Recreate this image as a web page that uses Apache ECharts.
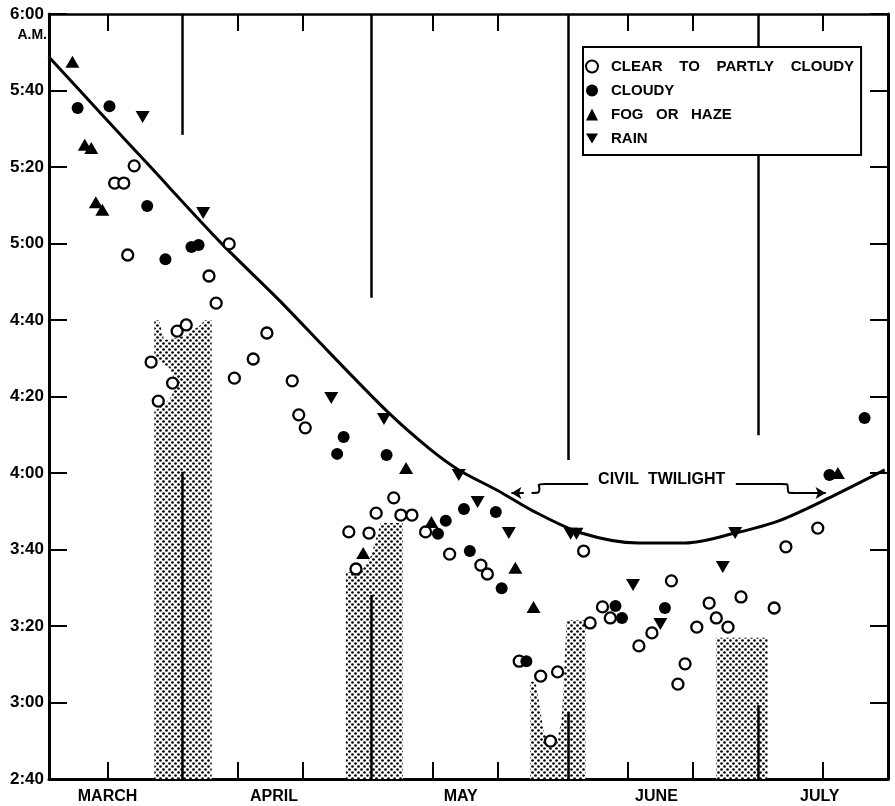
<!DOCTYPE html>
<html>
<head>
<meta charset="utf-8">
<script src="https://cdn.jsdelivr.net/npm/echarts@6/dist/echarts.min.js"></script>
<style>html,body{margin:0;padding:0;background:#fff}#chart{width:895px;height:806px}</style>
</head>
<body>
<div id="chart"></div>
<script>
// x: day index (1 = start of March), y: minutes after midnight
const monthNames = ['MARCH', 'APRIL', 'MAY', 'JUNE', 'JULY'];
const monthPositions = [10, 35.6, 64.3, 94.4, 119.5];
const xTickValues = [10, 30, 40, 60, 70, 90, 100, 120];
const yMin = 160, yMax = 360, yStep = 20;

const clearSky = [
  [14.1,320.3],[11.1,315.8],[12.5,315.8],[13.1,297.0],[28.7,299.9],[25.6,291.5],[26.7,284.4],
  [16.7,269.0],[17.8,258.8],[20.0,263.5],[20.7,277.1],[22.1,278.7],[29.5,264.8],[32.4,269.8],
  [34.5,276.6],[38.4,264.1],[39.4,255.2],[40.4,251.8],[54.0,233.5],[51.3,229.5],[55.1,229.0],
  [56.8,229.0],[47.1,224.6],[50.2,224.3],[58.9,224.6],[48.2,214.9],[62.6,218.8],[67.4,215.9],
  [68.4,213.6],[83.2,219.6],[84.2,200.8],[73.3,190.8],[76.6,186.9],[79.2,188.0],[78.1,169.9],
  [86.1,205.0],[87.3,202.1],[91.7,194.8],[93.7,198.2],[96.7,211.8],[98.8,190.1],[97.7,184.8],
  [100.6,199.7],[102.5,206.0],[103.6,202.1],[105.4,199.7],[107.4,207.6],[112.5,204.7],
  [114.3,220.7],[119.2,225.6]
];
const cloudy = [
  [5.4,335.4],[10.3,335.9],[16.1,309.8],[18.9,295.9],[22.9,299.1],[24.0,299.6],[46.3,249.4],
  [45.3,245.0],[52.9,244.7],[64.8,230.6],[62.0,227.5],[60.8,224.1],[69.7,229.8],[65.7,219.6],
  [70.6,209.9],[74.4,190.8],[88.1,205.2],[89.1,202.1],[95.7,204.7],[121.0,239.5],[126.4,254.4]
];
const fogHaze = [
  [4.6,347.5],[6.5,325.8],[7.5,325.0],[8.2,310.8],[9.2,308.8],[55.9,241.3],[59.8,227.2],
  [49.3,219.1],[72.7,215.2],[75.5,205.0],[122.3,240.0]
];
const rain = [
  [15.4,333.1],[24.7,308.0],[44.4,259.6],[52.5,254.1],[64.0,239.5],[66.9,232.4],[71.7,224.3],
  [81.2,224.1],[82.1,224.1],[90.8,210.7],[95.0,200.5],[104.6,215.4],[106.5,224.3]
];
const twilightCurve = [
  [0.95,348.8],[8.77,334.4],[16.44,320.3],[27.48,300.1],[36.38,285.2],[44.05,271.6],[53.24,255.7],
  [59.39,246.5],[64.0,240.8],[70.12,235.3],[75.18,230.3],[82.85,224.3],[91.6,221.7],[98.8,221.7],
  [106.5,224.3],[113.5,227.7],[121.2,233.7],[129.5,240.8]
];
// moon lines: [x, end of line hanging from top, end of line rising from bottom]
const moonLines = [[21.5,328.4,240.3],[50.5,285.8,208.1],[80.8,243.4,177.5],[110.1,249.9,179.3]];
// stippled blocks (outline polygons in data units)
const shadeBlocks = [
  [[17.2,160],[17.2,256],[19.5,259.2],[20.7,263],[19.5,267.5],[17.7,269.5],[17.2,270],[17.2,280],
   [17.9,280],[18.7,274.8],[21.8,275.8],[24.1,278.4],[25.0,280],[26.0,280],[26.0,160]],
  [[46.65,160],[46.65,214.1],[49.0,214.1],[50.5,218.3],[51.7,225.1],[52.0,226.9],[55.4,226.9],[55.4,160]],
  [[75.0,160],[75.0,185.4],[75.8,185.4],[76.3,180.7],[77.0,172.8],[78.1,168.1],[79.0,168.9],
   [79.8,175.4],[80.1,183.3],[80.2,188.5],[80.6,201.6],[83.5,201.6],[83.5,160]],
  [[103.6,160],[103.6,196.9],[111.5,196.9],[111.5,160]]
];
const twilightLabel = { text: 'CIVIL  TWILIGHT', at: [95.2, 238.2] };
const twilightLeft = [[75.2,234.8],[76.2,234.9],[76.4,236.0],[76.3,236.9],[77.3,237.1],[83.9,237.1]];
const twilightRight = [[106.6,237.1],[113.5,237.1],[114.5,237.0],[114.6,235.9],[114.7,234.9],[115.7,234.8],[120.4,234.8]];
const arrowLeft = [[74.0,234.8],[72.1,234.8]];
const arrowRight = [[118.6,234.8],[120.4,234.8]];

function makePattern() {
  const c = document.createElement('canvas');
  c.width = 6; c.height = 6;
  const g = c.getContext('2d');
  g.fillStyle = '#fff'; g.fillRect(0, 0, 6, 6);
  g.fillStyle = '#000';
  [[1.5,1.5],[4.5,4.5]].forEach(p => { g.beginPath(); g.arc(p[0], p[1], 1.35, 0, Math.PI * 2); g.fill(); });
  return c;
}
const pattern = { image: makePattern(), repeat: 'repeat' };

const FONT = '"Liberation Sans", Arial, sans-serif';
const fmtTime = v => Math.floor(v / 60) + ':' + String(v % 60).padStart(2, '0');

const chart = echarts.init(document.getElementById('chart'), null, { renderer: 'canvas' });

const lineBlack = { color: '#000', width: 2.5, type: 'solid' };
const moonMark = [];
moonLines.forEach(l => {
  moonMark.push([{ coord: [l[0], yMax] }, { coord: [l[0], l[1]] }]);
  moonMark.push([{ coord: [l[0], yMin] }, { coord: [l[0], l[2]] }]);
});
const downTri = 'path://M0,0L20,0L10,17Z';

const option = {
  backgroundColor: '#fff',
  animation: false,
  grid: { left: 49, right: 7, top: 14, bottom: 27, containLabel: false },
  legend: {
    orient: 'vertical',
    left: 583, top: 47, z: 20, zlevel: 1,
    data: ['CLEAR TO PARTLY CLOUDY', 'CLOUDY', 'FOG OR HAZE', 'RAIN'],
    backgroundColor: '#fff',
    borderColor: '#000', borderWidth: 2,
    padding: [12, 7, 9, 2],
    itemGap: 9, itemWidth: 12, itemHeight: 12,
    formatter: n => n.replace(/ /g, n.length > 15 ? '    ' : '   '),
    textStyle: { fontFamily: FONT, fontWeight: 'bold', fontSize: 15, color: '#000', padding: [0, 0, 0, 8] }
  },
  xAxis: [
    { type: 'value', min: 1, max: 130, position: 'bottom',
      axisLine: { show: true, onZero: false, lineStyle: { color: '#000', width: 3 } },
      axisTick: { show: true, inside: true, length: 17, customValues: xTickValues, lineStyle: { color: '#000', width: 2 } },
      axisLabel: { show: false }, splitLine: { show: false } },
    { type: 'value', min: 1, max: 130, position: 'bottom',
      axisLine: { show: false }, axisTick: { show: false }, splitLine: { show: false },
      axisLabel: { show: true, customValues: monthPositions, margin: 10,
        formatter: (v) => monthNames[monthPositions.indexOf(v)] || '',
        fontFamily: FONT, fontWeight: 'bold', fontSize: 16, color: '#000' } },
    { type: 'value', min: 1, max: 130, position: 'top',
      axisLine: { show: true, onZero: false, lineStyle: { color: '#000', width: 2.5 } },
      axisTick: { show: true, inside: true, length: 17, customValues: xTickValues, lineStyle: { color: '#000', width: 2 } },
      axisLabel: { show: false }, splitLine: { show: false } }
  ],
  yAxis: [
    { type: 'value', min: yMin, max: yMax, interval: yStep, position: 'left',
      axisLine: { show: true, onZero: false, lineStyle: { color: '#000', width: 3 } },
      axisTick: { show: true, inside: true, length: 18, lineStyle: { color: '#000', width: 2 } },
      axisLabel: { formatter: fmtTime, margin: 5, fontFamily: FONT, fontWeight: 'bold', fontSize: 17, color: '#000' },
      splitLine: { show: false } },
    { type: 'value', min: yMin, max: yMax, interval: yStep, position: 'right',
      axisLine: { show: true, onZero: false, lineStyle: { color: '#000', width: 3 } },
      axisTick: { show: true, inside: true, length: 18, lineStyle: { color: '#000', width: 2 } },
      axisLabel: { show: false }, splitLine: { show: false } },
    { type: 'value', min: yMin, max: yMax, position: 'left',
      axisLine: { show: false }, axisTick: { show: false }, splitLine: { show: false },
      axisLabel: { show: true, customValues: [354.5], formatter: () => 'A.M.', margin: 2,
        fontFamily: FONT, fontWeight: 'bold', fontSize: 14, color: '#000' } }
  ],
  series: [
    { type: 'custom', name: 'moonlight', z: 1, silent: true, clip: true,
      data: shadeBlocks.map((p, i) => [p[0][0], p[0][1], i]),
      renderItem: (params, api) => {
        const poly = shadeBlocks[api.value(2)];
        return { type: 'polygon', shape: { points: poly.map(pt => api.coord(pt)) },
                 style: { fill: pattern, stroke: null } };
      } },
    { type: 'line', name: 'moon', z: 2, data: [], silent: true,
      markLine: { silent: true, symbol: ['none', 'none'], label: { show: false },
        lineStyle: lineBlack, data: moonMark } },
    { type: 'line', name: 'twilight', z: 3, data: twilightCurve, smooth: 0.3, symbol: 'none',
      lineStyle: { color: '#000', width: 3 } },
    { type: 'line', name: 'twl', z: 3, data: twilightLeft, smooth: 0.3, symbol: 'none',
      lineStyle: { color: '#000', width: 2 },
      markLine: { silent: true, symbol: ['none', 'arrow'], symbolSize: [9, 10], label: { show: false },
        lineStyle: { color: '#000', width: 2, type: 'solid' },
        data: [[{ coord: arrowLeft[0] }, { coord: arrowLeft[1] }], [{ coord: arrowRight[0] }, { coord: arrowRight[1] }]] },
      markPoint: { symbol: 'rect', symbolSize: [1, 1], itemStyle: { color: 'rgba(0,0,0,0)' },
        label: { show: true, position: 'inside', formatter: twilightLabel.text, fontFamily: FONT,
          fontWeight: 'bold', fontSize: 16, color: '#000' },
        data: [{ coord: twilightLabel.at }] } },
    { type: 'line', name: 'twr', z: 3, data: twilightRight, smooth: 0.3, symbol: 'none',
      lineStyle: { color: '#000', width: 2 } },
    { type: 'scatter', name: 'CLEAR TO PARTLY CLOUDY', z: 5, data: clearSky, symbol: 'circle', symbolSize: 11,
      itemStyle: { color: '#fff', borderColor: '#000', borderWidth: 2.3, opacity: 1 } },
    { type: 'scatter', name: 'CLOUDY', z: 5, data: cloudy, symbol: 'circle', symbolSize: 12,
      itemStyle: { color: '#000', opacity: 1 } },
    { type: 'scatter', name: 'FOG OR HAZE', z: 5, data: fogHaze, symbol: 'triangle', symbolSize: [14, 12],
      itemStyle: { color: '#000', opacity: 1 } },
    { type: 'scatter', name: 'RAIN', z: 5, data: rain, symbol: downTri, symbolSize: [14, 12],
      itemStyle: { color: '#000', opacity: 1 } }
  ]
};
chart.setOption(option);
</script>
</body>
</html>
